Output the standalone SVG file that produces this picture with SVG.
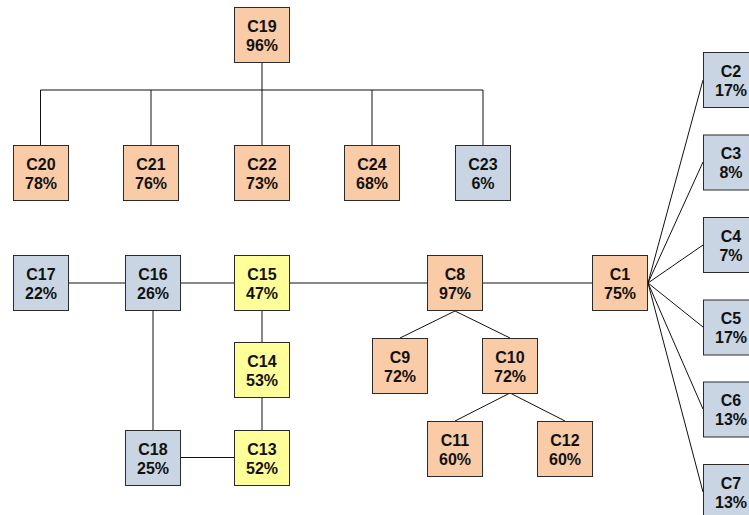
<svg xmlns="http://www.w3.org/2000/svg" width="749" height="515" viewBox="0 0 749 515">
<style>
rect{stroke:#2b2b2b;stroke-width:1}
.o{fill:#F9CBA6}
.b{fill:#C9D5E3}
.y{fill:#FFFF99}
text{font-family:"Liberation Sans",Arial,sans-serif;font-weight:bold;font-size:16px;fill:#111;text-anchor:middle}
#connectors line,#connectors polyline{stroke:#111;stroke-width:1;fill:none}
</style>
<rect width="749" height="515" fill="#fff" style="stroke:none"/>
<g id="connectors">
<line x1="262" y1="63" x2="262" y2="90"/>
<line x1="40.5" y1="90" x2="483" y2="90"/>
<line x1="40.5" y1="90" x2="40.5" y2="145"/>
<line x1="151" y1="90" x2="151" y2="145"/>
<line x1="262" y1="90" x2="262" y2="145"/>
<line x1="372" y1="90" x2="372" y2="145"/>
<line x1="483" y1="90" x2="483" y2="145"/>
<line x1="68" y1="283" x2="125" y2="283"/>
<line x1="180" y1="283" x2="234" y2="283"/>
<line x1="289" y1="283" x2="428" y2="283"/>
<line x1="483" y1="283" x2="593" y2="283"/>
<line x1="153" y1="311" x2="153" y2="430"/>
<line x1="262" y1="311" x2="262" y2="342"/>
<line x1="262" y1="397" x2="262" y2="430"/>
<line x1="180" y1="457.5" x2="234" y2="457.5"/>
<line x1="455" y1="311" x2="400" y2="338"/>
<line x1="455" y1="311" x2="510" y2="338"/>
<line x1="510" y1="393" x2="455" y2="421"/>
<line x1="510" y1="393" x2="565" y2="421"/>
<line x1="648" y1="283" x2="703" y2="80"/>
<line x1="648" y1="283" x2="703" y2="162"/>
<line x1="648" y1="283" x2="703" y2="245"/>
<line x1="648" y1="283" x2="703" y2="327"/>
<line x1="648" y1="283" x2="703" y2="409"/>
<line x1="648" y1="283" x2="703" y2="492"/>
</g>
<g id="C19"><rect class="o" x="234.5" y="7.5" width="55" height="55"/><text x="262" y="31.5">C19</text><text x="262" y="50.5">96%</text></g>
<g id="C20"><rect class="o" x="13.5" y="145.5" width="55" height="55"/><text x="41" y="169.5">C20</text><text x="41" y="188.5">78%</text></g>
<g id="C21"><rect class="o" x="123.5" y="145.5" width="55" height="55"/><text x="151" y="169.5">C21</text><text x="151" y="188.5">76%</text></g>
<g id="C22"><rect class="o" x="234.5" y="145.5" width="55" height="55"/><text x="262" y="169.5">C22</text><text x="262" y="188.5">73%</text></g>
<g id="C24"><rect class="o" x="344.5" y="145.5" width="55" height="55"/><text x="372" y="169.5">C24</text><text x="372" y="188.5">68%</text></g>
<g id="C23"><rect class="b" x="455.5" y="145.5" width="55" height="55"/><text x="483" y="169.5">C23</text><text x="483" y="188.5">6%</text></g>
<g id="C17"><rect class="b" x="13.5" y="255.5" width="55" height="55"/><text x="41" y="279.5">C17</text><text x="41" y="298.5">22%</text></g>
<g id="C16"><rect class="b" x="125.5" y="255.5" width="55" height="55"/><text x="153" y="279.5">C16</text><text x="153" y="298.5">26%</text></g>
<g id="C15"><rect class="y" x="234.5" y="255.5" width="55" height="55"/><text x="262" y="279.5">C15</text><text x="262" y="298.5">47%</text></g>
<g id="C8"><rect class="o" x="427.5" y="255.5" width="55" height="55"/><text x="455" y="279.5">C8</text><text x="455" y="298.5">97%</text></g>
<g id="C1"><rect class="o" x="592.5" y="255.5" width="55" height="55"/><text x="620" y="279.5">C1</text><text x="620" y="298.5">75%</text></g>
<g id="C14"><rect class="y" x="234.5" y="342.5" width="55" height="55"/><text x="262" y="366.5">C14</text><text x="262" y="385.5">53%</text></g>
<g id="C9"><rect class="o" x="372.5" y="338.5" width="55" height="55"/><text x="400" y="362.5">C9</text><text x="400" y="381.5">72%</text></g>
<g id="C10"><rect class="o" x="482.5" y="338.5" width="55" height="55"/><text x="510" y="362.5">C10</text><text x="510" y="381.5">72%</text></g>
<g id="C18"><rect class="b" x="125.5" y="430.5" width="55" height="55"/><text x="153" y="454.5">C18</text><text x="153" y="473.5">25%</text></g>
<g id="C13"><rect class="y" x="234.5" y="430.5" width="55" height="55"/><text x="262" y="454.5">C13</text><text x="262" y="473.5">52%</text></g>
<g id="C11"><rect class="o" x="427.5" y="421.5" width="55" height="55"/><text x="455" y="445.5">C11</text><text x="455" y="464.5">60%</text></g>
<g id="C12"><rect class="o" x="537.5" y="421.5" width="55" height="55"/><text x="565" y="445.5">C12</text><text x="565" y="464.5">60%</text></g>
<g id="C2"><rect class="b" x="703.5" y="52.5" width="55" height="55"/><text x="731" y="76.5">C2</text><text x="731" y="95.5">17%</text></g>
<g id="C3"><rect class="b" x="703.5" y="135" width="55" height="55"/><text x="731" y="159">C3</text><text x="731" y="178">8%</text></g>
<g id="C4"><rect class="b" x="703.5" y="217.5" width="55" height="55"/><text x="731" y="241.5">C4</text><text x="731" y="260.5">7%</text></g>
<g id="C5"><rect class="b" x="703.5" y="300" width="55" height="55"/><text x="731" y="324">C5</text><text x="731" y="343">17%</text></g>
<g id="C6"><rect class="b" x="703.5" y="382" width="55" height="55"/><text x="731" y="406">C6</text><text x="731" y="425">13%</text></g>
<g id="C7"><rect class="b" x="703.5" y="464.5" width="55" height="55"/><text x="731" y="488.5">C7</text><text x="731" y="507.5">13%</text></g>
</svg>
